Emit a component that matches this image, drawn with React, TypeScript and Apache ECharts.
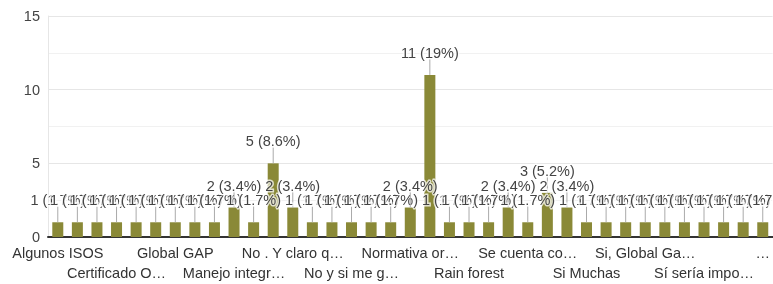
import React, { useEffect, useRef } from "react";
import * as echarts from "echarts";

const categories: string[] = [
  "Algunos ISOS",
  "Buenas prácticas agrícolas",
  "Certificación orgánica",
  "Certificado O…",
  "Conozco algunas",
  "GlobalGAP y orgánica",
  "Global GAP",
  "HACCP",
  "ISO 14001",
  "Manejo integr…",
  "No",
  "No conozco",
  "No . Y claro q…",
  "No estoy seguro",
  "No tengo conocimiento",
  "No y si me g…",
  "Ninguna",
  "Normas de calidad",
  "Normativa or…",
  "Orgánica",
  "Prácticas sostenibles",
  "Rain forest",
  "Rainforest Alliance",
  "Sanidad vegetal",
  "Se cuenta co…",
  "Si",
  "Si conozco",
  "Si Muchas",
  "Si, algunas",
  "Si, Fair Trade",
  "Si, Global Ga…",
  "Si, orgánica",
  "Sí, algunas normas",
  "Sí sería impo…",
  "Sí, varias",
  "Trazabilidad",
  "…",
];

const values: number[] = [
  1, 1, 1, 1, 1, 1, 1, 1, 1, 2, 1, 5, 2, 1, 1, 1, 1, 1, 2, 11, 1, 1, 1, 2, 1, 3,
  2, 1, 1, 1, 1, 1, 1, 1, 1, 1, 1,
];

const yTicks: number[] = [0, 5, 10, 15];

const total = values.reduce((a, b) => a + b, 0);
const pct = (v: number) => {
  const s = ((v / total) * 100).toFixed(1);
  return s.endsWith(".0") ? s.slice(0, -2) : s;
};

const FONT = "Liberation Sans, Arial, sans-serif";

const labelBase = {
  margin: 8,
  color: "#333",
  fontFamily: FONT,
  fontSize: 14.5,
  hideOverlap: false,
};

export default function App() {
  const ref = useRef<HTMLDivElement>(null);
  useEffect(() => {
    if (!ref.current) return;
    const chart = echarts.init(ref.current, undefined, { renderer: "svg" });
    chart.setOption({
      animation: false,
      grid: { left: 48, right: 0, top: 16, bottom: 47, containLabel: false },
      xAxis: [
        {
          type: "category",
          data: categories,
          axisTick: { show: false },
          axisLine: { lineStyle: { color: "#333", width: 2 } },
          axisLabel: {
            ...labelBase,
            interval: (i: number) => i % 6 === 0,
          },
        },
        {
          type: "category",
          data: categories,
          position: "bottom",
          offset: 20,
          axisTick: { show: false },
          axisLine: { show: false },
          axisLabel: {
            ...labelBase,
            interval: (i: number) => i % 6 === 3,
          },
        },
      ],
      yAxis: {
        type: "value",
        min: yTicks[0],
        max: yTicks[yTicks.length - 1],
        interval: 5,
        axisLine: { show: true, lineStyle: { color: "#e6e6e6" } },
        axisTick: { show: false },
        axisLabel: {
          color: "#444",
          fontFamily: FONT,
          fontSize: 14.5,
          margin: 8,
        },
        splitLine: { lineStyle: { color: "#e6e6e6" } },
        minorTick: { show: false, splitNumber: 2 },
        minorSplitLine: { show: true, lineStyle: { color: "#f1f1f1" } },
      },
      series: [
        {
          type: "bar",
          xAxisIndex: 0,
          data: values,
          barWidth: 11,
          itemStyle: { color: "#8a8937" },
          z: 2,
        },
        {
          type: "custom",
          xAxisIndex: 0,
          z: 5,
          data: values.map((v, i) => [i, v]),
          renderItem: (_p: any, api: any) => {
            const idx = api.value(0);
            const v = api.value(1);
            const pt = api.coord([idx, v]);
            return {
              type: "group",
              children: [
                {
                  type: "line",
                  shape: { x1: pt[0], y1: pt[1] - 16, x2: pt[0], y2: pt[1] },
                  style: { stroke: "#aaaaaa", lineWidth: 1 },
                },
                {
                  type: "text",
                  x: pt[0],
                  y: pt[1] - 22,
                  style: {
                    text: `${v} (${pct(v)}%)`,
                    fill: "#444",
                    font: `14.5px ${FONT}`,
                    align: "center",
                    verticalAlign: "middle",
                    stroke: "rgba(255,255,255,0.75)",
                    lineWidth: 3,
                  },
                },
              ],
            };
          },
        },
      ],
    });
    return () => chart.dispose();
  }, []);
  return (
    <div
      ref={ref}
      style={{ position: "fixed", left: 0, top: 0, width: 773, height: 284 }}
    />
  );
}
